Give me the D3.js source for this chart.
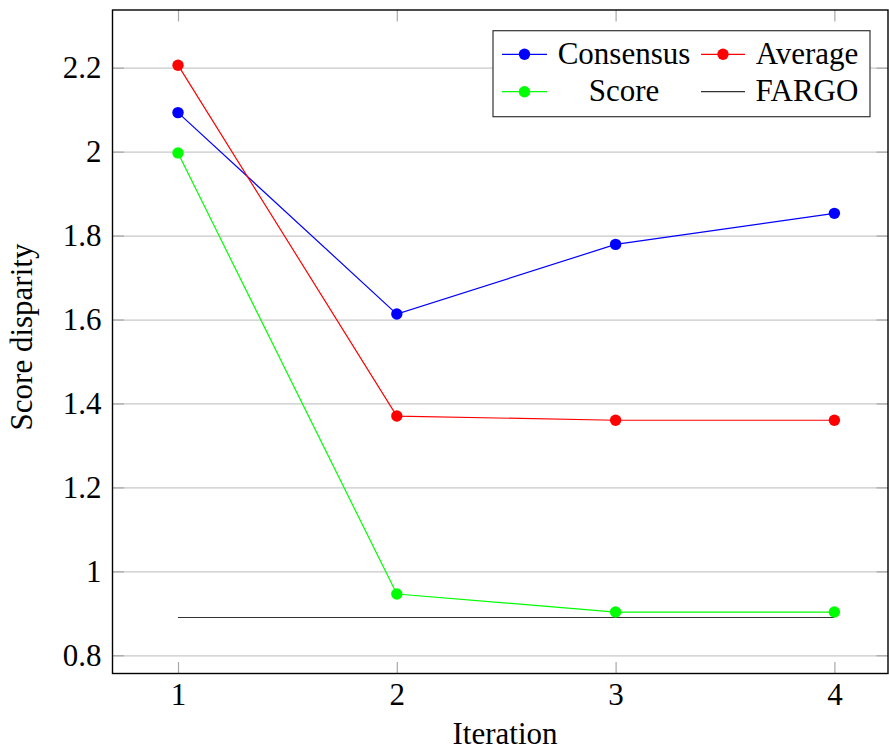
<!DOCTYPE html>
<html>
<head>
<meta charset="utf-8">
<script src="https://cdn.jsdelivr.net/npm/d3@7"></script>
<style>
  html, body { margin: 0; padding: 0; background: #fff; }
  svg { display: block; }
  svg text { font-family: "Liberation Serif", "Times New Roman", "DejaVu Serif", serif !important; }
</style>
</head>
<body>
<svg id="chart" width="889" height="751"></svg>
<script>
// ---- data ----
const iterations = [1, 2, 3, 4];
const consensus = [2.093, 1.613, 1.779, 1.853];
const average   = [2.206, 1.370, 1.360, 1.360];
const score     = [1.997, 0.946, 0.903, 0.903];
const fargo     = [0.890, 0.890, 0.890, 0.890];
const seriesNames = ["Consensus", "Average", "Score", "FARGO"];
const seriesColors = ["#0000ff", "#ff0000", "#00ff00", "#333333"];
const yTicks = [0.8, 1.0, 1.2, 1.4, 1.6, 1.8, 2.0, 2.2];
const yTickLabels = ["0.8", "1", "1.2", "1.4", "1.6", "1.8", "2", "2.2"];
const xTicks = [1, 2, 3, 4];
const xLabel = "Iteration";
const yLabel = "Score disparity";

// ---- layout ----
const L = 112.5, R = 888, T = 10, B = 673.5;
const FS = 31;
const MR = 5.7;
const FONT = "'Liberation Serif', 'Times New Roman', 'DejaVu Serif', serif";
const svg = d3.select("#chart");

const x = d3.scaleLinear().domain([0.7006, 4.245]).range([L, R]);
const y = d3.scaleLinear().domain([0.7566, 2.3375]).range([B, T]);

// gridlines
const grid = svg.append("g").attr("transform", `translate(${L},0)`)
  .call(d3.axisLeft(y).tickValues(yTicks).tickSize(-(R - L)).tickFormat(""));
grid.select(".domain").remove();
grid.selectAll("line").attr("stroke", "#c8c8c8").attr("stroke-width", 1.2);

// tick marks inward, all four sides
function styleAxis(g) {
  g.select(".domain").remove();
  g.selectAll("line").attr("stroke", "#a8a8a8").attr("stroke-width", 1.2);
  g.attr("font-size", FS).attr("font-family", null);
  g.selectAll("text").attr("fill", "#000").style("font-family", FONT);
}
const yAxis = svg.append("g").attr("transform", `translate(${L},0)`)
  .call(d3.axisLeft(y).tickValues(yTicks).tickSize(-11.5).tickPadding(11)
    .tickFormat((d, i) => yTickLabels[i]));
styleAxis(yAxis);
const yAxisR = svg.append("g").attr("transform", `translate(${R},0)`)
  .call(d3.axisRight(y).tickValues(yTicks).tickSize(-11.5).tickFormat(""));
styleAxis(yAxisR);
const xAxis = svg.append("g").attr("transform", `translate(0,${B})`)
  .call(d3.axisBottom(x).tickValues(xTicks).tickSize(-11.5).tickPadding(9.5)
    .tickFormat(d3.format("d")));
styleAxis(xAxis);
const xAxisT = svg.append("g").attr("transform", `translate(0,${T})`)
  .call(d3.axisTop(x).tickValues(xTicks).tickSize(-11.5).tickFormat(""));
styleAxis(xAxisT);

// frame
svg.append("rect").attr("x", L).attr("y", T).attr("width", R - L).attr("height", B - T)
  .attr("fill", "none").attr("stroke", "#000").attr("stroke-width", 1.4);

// series
const allSeries = [consensus, average, score, fargo];
const line = d3.line().x((d, i) => x(iterations[i])).y(d => y(d));
allSeries.forEach((vals, si) => {
  svg.append("path").datum(vals).attr("d", line)
    .attr("fill", "none").attr("stroke", seriesColors[si]).attr("stroke-width", 1.2);
});
allSeries.forEach((vals, si) => {
  if (si === 3) return;
  svg.append("g").selectAll("circle").data(vals).join("circle")
    .attr("cx", (d, i) => x(iterations[i])).attr("cy", d => y(d)).attr("r", MR)
    .attr("fill", seriesColors[si]);
});

// axis labels
svg.append("text").attr("x", 505).attr("y", 744).attr("text-anchor", "middle")
  .attr("font-size", FS).style("font-family", FONT).text(xLabel);
svg.append("text").attr("transform", "translate(32,337) rotate(-90)")
  .attr("text-anchor", "middle").attr("font-size", FS).style("font-family", FONT).text(yLabel);

// legend
const lg = svg.append("g");
lg.append("rect").attr("x", 493).attr("y", 30.7).attr("width", 377).attr("height", 86)
  .attr("fill", "#fff").attr("stroke", "#333").attr("stroke-width", 1.2);
const colLine = [[502, 547], [701, 745]];
const colText = [624, 807];
const rowY = [54.3, 91.7];
seriesNames.forEach((name, i) => {
  const c = i % 2, r = Math.floor(i / 2);
  const [x0, x1] = colLine[c];
  lg.append("line").attr("x1", x0).attr("x2", x1).attr("y1", rowY[r]).attr("y2", rowY[r])
    .attr("stroke", seriesColors[i]).attr("stroke-width", 1.2);
  if (i !== 3) {
    lg.append("circle").attr("cx", (x0 + x1) / 2).attr("cy", rowY[r]).attr("r", MR)
      .attr("fill", seriesColors[i]);
  }
  lg.append("text").attr("x", colText[c]).attr("y", rowY[r] + 9.5)
    .attr("text-anchor", "middle").attr("font-size", FS).style("font-family", FONT).text(name);
});
</script>
</body>
</html>
